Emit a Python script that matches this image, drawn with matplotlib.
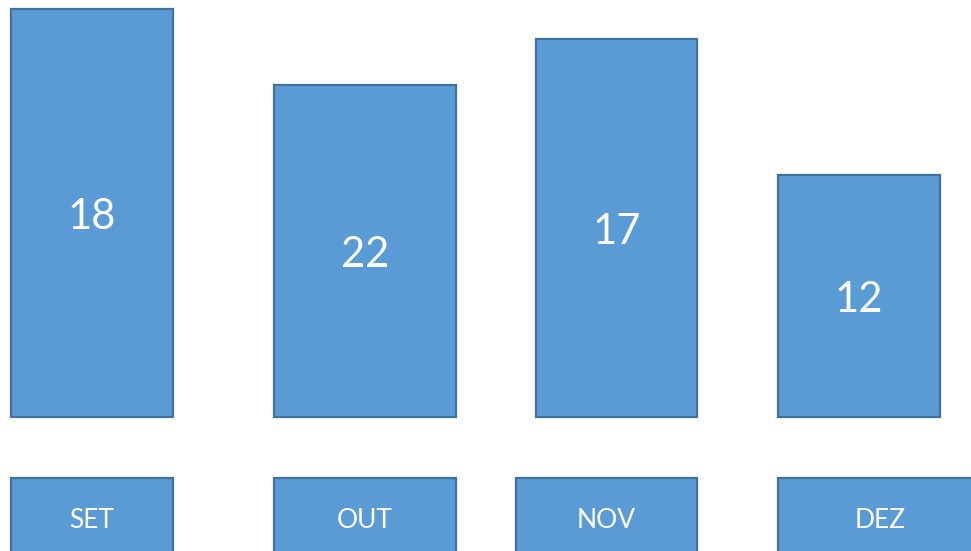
import matplotlib.pyplot as plt
from matplotlib.patches import Rectangle

# chart values
months = ["SET", "OUT", "NOV", "DEZ"]
labels = ["18", "22", "17", "12"]
heights = [408, 332, 378, 242]   # bar heights (drawn size, pixels)

# layout (pixel coordinates of the original slide)
bar_left = [11, 274, 536, 778]
bar_width = [162, 182, 161, 162]
base = 417
box_left = [11, 274, 516, 778]
box_width = [162, 182, 181, 204]
box_top = 478
box_height = 80

FILL = "#5B9BD5"
EDGE = "#41719C"

fig = plt.figure(figsize=(9.71, 5.51), dpi=100)
ax = fig.add_axes([0, 0, 1, 1])
ax.set_xlim(0, 971)
ax.set_ylim(551, 0)
ax.axis("off")

# bars grow upward from the baseline
bars = ax.bar(bar_left, [-h for h in heights], width=bar_width, bottom=base,
              align="edge", color=FILL, edgecolor=EDGE, linewidth=1.6)
for rect, lab in zip(bars, labels):
    cx = rect.get_x() + rect.get_width() / 2
    cy = rect.get_y() + rect.get_height() / 2
    ax.text(cx, cy + 4, lab, color="white", fontsize=30, family="Lato",
            ha="center", va="center")

# month boxes
for x, w, m in zip(box_left, box_width, months):
    ax.add_patch(Rectangle((x, box_top), w, box_height, facecolor=FILL,
                           edgecolor=EDGE, linewidth=1.6, clip_on=False))
    ax.text(x + w / 2, 520, m, color="white", fontsize=19, family="Lato",
            ha="center", va="center")

fig.savefig("out.png", dpi=100)
